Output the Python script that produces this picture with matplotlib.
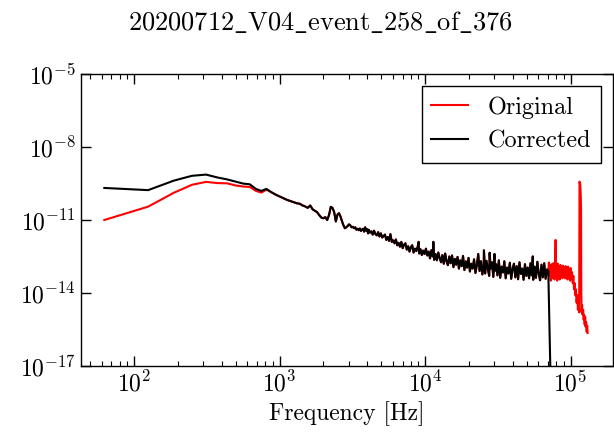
import numpy as np
import matplotlib
matplotlib.use("Agg")
import matplotlib.pyplot as plt
from matplotlib.ticker import NullLocator

plt.rcParams['font.family'] = 'serif'
plt.rcParams['font.serif'] = ['cmr10']
plt.rcParams['mathtext.fontset'] = 'cm'
plt.rcParams['axes.formatter.use_mathtext'] = True

title = r'$\mathrm{20200712\_V04\_event\_258\_of\_376}$'

# low frequency bins, the two curves differ here
f_low = [62.5, 125, 187.5, 250, 312.5, 375, 437.5, 500, 562.5, 625, 687.5, 750, 812.5]
orig_low = [-11.0, -10.45, -9.88, -9.55, -9.43, -9.48, -9.49, -9.58, -9.62, -9.64, -9.80, -9.87, -9.75]
corr_low = [-9.68, -9.77, -9.38, -9.18, -9.13, -9.25, -9.33, -9.42, -9.50, -9.53, -9.72, -9.80, -9.72]

# shared part (log10 of PSD), both curves overlap
f_mid = [875, 937.5, 1000, 1062.5, 1125, 1187.5, 1250, 1312.5, 1375, 1437.5,
         1500, 1562.5, 1625, 1687.5, 1750, 1812.5, 1875, 1937.5, 2000, 2062.5,
         2125, 2187.5, 2250, 2312.5, 2375, 2437.5, 2500, 2562.5, 2625, 2687.5,
         2750, 2812.5, 2875, 2937.5, 3000, 3062.5, 3125, 3187.5, 3250, 3312.5,
         3375, 3437.5, 3500, 3562.5, 3625, 3687.5, 3750, 3812.5, 3875, 3937.5,
         4000, 4062.5,
         4100, 4190, 4280, 4370, 4460, 4560, 4660, 4760, 4860, 4970,
         5080, 5190, 5300, 5420, 5540, 5660, 5780, 5910, 6040, 6170,
         6300, 6440, 6580, 6720, 6870, 7020, 7170, 7330, 7490, 7650,
         7820, 7990, 8160, 8340, 8520, 8710, 8900, 9040, 9100, 9300,
         9500, 9710, 9920,
         10140, 10360, 10590, 10820, 11060, 11300, 11400, 11550, 11800, 12060,
         12330, 12600, 12880, 13160, 13450, 13750, 14050, 14360, 14680, 15000,
         15330, 15670, 16010, 16360, 16720, 17090, 17470, 17850, 18240, 18640,
         19050, 19470, 19900, 20340, 20790, 21250, 21720, 22200, 22690, 23200,
         23700, 24230, 24760, 25300, 25400, 25860, 26430, 27010, 27600, 27800,
         28210, 28830, 29460, 30000, 30110, 30770, 31450, 32140, 32850, 33570,
         34310, 35060, 35830, 36620, 37430, 38250, 39090, 39950, 40830, 41730,
         42650, 43590, 44550, 45530, 46530, 47550, 48600, 49670, 50760, 51880,
         53020, 54180, 55000, 55370, 56590, 57840, 59110, 60410, 61740, 63100,
         64490, 65910, 67360, 68840, 70300]
psd_mid = [-9.85, -9.95, -10.03, -10.10, -10.17, -10.22, -10.27, -10.31, -10.33, -10.40,
           -10.44, -10.50, -10.40, -10.56, -10.62, -10.68, -10.80, -10.90, -10.93, -10.88,
           -11.0, -10.80, -10.46, -10.50, -10.68, -11.06, -10.78, -10.72, -10.86, -11.05,
           -11.22, -11.34, -11.30, -11.25, -11.18, -11.22, -11.30, -11.28, -11.34, -11.30,
           -11.40, -11.36, -11.42, -11.35, -11.45, -11.40, -11.36, -11.48, -11.30, -11.44,
           -11.38, -11.55,
           -11.40, -11.52, -11.47, -11.60, -11.44, -11.58, -11.63, -11.50, -11.68, -11.55,
           -11.72, -11.66, -11.60, -11.82, -11.70, -11.86, -11.58, -11.90, -11.84, -11.96,
           -11.80, -12.04, -11.94, -12.10, -11.90, -12.16, -12.02, -11.96, -12.22, -12.08,
           -12.30, -12.12, -12.04, -12.34, -12.18, -12.28, -12.10, -11.90, -12.38, -12.20,
           -12.44, -12.26, -12.40,
           -12.18, -12.46, -12.30, -12.58, -12.24, -12.50, -11.90, -12.64, -12.40, -12.66,
           -12.34, -12.56, -12.74, -12.44, -12.80, -12.38, -12.70, -12.86, -12.50, -12.78,
           -12.46, -12.94, -12.60, -12.84, -12.52, -13.00, -12.66, -12.90, -12.48, -13.06,
           -12.70, -12.96, -12.56, -13.12, -12.80, -13.00, -12.62, -13.18, -12.86, -12.40,
           -13.10, -12.70, -13.24, -12.90, -12.25, -13.20, -12.68, -13.02, -13.30, -12.35,
           -13.00, -12.74, -13.34, -12.40, -13.10, -12.82, -13.28, -12.66, -13.38, -12.92,
           -13.16, -12.70, -13.40, -12.96, -13.20, -12.76, -13.42, -13.02, -12.80, -13.36,
           -12.90, -13.44, -12.74, -13.22, -13.00, -13.46, -12.82, -13.30, -12.96, -13.40,
           -12.78, -13.28, -12.50, -13.46, -12.92, -13.38, -12.72, -13.20, -13.48, -12.84,
           -13.36, -12.78, -13.42, -13.04, -13.10]

# corrected: steep roll-off above ~70 kHz
f_corr_tail = [71000, 71700, 72600, 74000]
corr_tail = [-14.3, -15.3, -17.0, -19.5]

# original keeps going up to ~130 kHz
f_orig_tail = [71000, 71700, 72400, 73100, 73800, 74500, 75300, 76000, 76800, 77600,
               78400, 78900, 79300, 80100, 80900, 81700, 82500, 83400, 84200, 85100,
               86000, 86900, 87800, 88700, 89600, 90500, 91400, 92400, 93300, 94300,
               95300, 96300, 97300, 98300, 99300, 100300, 101400, 102400, 103500, 104500,
               105600, 106700, 107800, 108900, 110000, 111100, 112300, 113400, 114600, 115200,
               116300, 117200, 118000, 118500, 119200, 120000, 121000, 122000, 123000, 124000,
               125000, 126000, 127000, 128000, 129000, 130000, 131000]
orig_tail = [-12.75, -13.30, -12.95, -13.50, -12.82, -13.20, -13.40, -12.78, -13.25, -13.45,
             -12.90, -11.82, -13.35, -13.00, -13.50, -12.80, -13.20, -13.05, -13.45, -12.85,
             -13.25, -13.00, -13.40, -12.88, -13.15, -12.95, -13.40, -12.90, -13.20, -13.05,
             -13.45, -12.92, -13.30, -13.10, -13.50, -12.98, -13.40, -13.15, -13.60, -13.30,
             -13.85, -13.60, -14.10, -13.85, -14.40, -14.10, -14.70, -14.30, -14.80, -9.42,
             -9.50, -9.80, -10.40, -14.00, -14.80, -14.50, -14.90, -14.70, -15.10, -14.90,
             -15.30, -15.00, -15.40, -15.20, -15.60, -15.35, -15.65]

f_orig = np.array(f_low + f_mid + f_orig_tail)
psd_orig = 10.0 ** np.array(orig_low + psd_mid + orig_tail)
f_corr = np.array(f_low + f_mid + f_corr_tail)
psd_corr = 10.0 ** np.array(corr_low + psd_mid + corr_tail)

fig = plt.figure(figsize=(6.14, 4.36), dpi=100)
ax = fig.add_axes([0.1314, 0.1612, 0.8666, 0.6684])
ax.loglog(f_orig, psd_orig, color='red', lw=1.5, label='Original')
ax.loglog(f_corr, psd_corr, color='black', lw=1.5, label='Corrected')

ax.set_xlim(43, 1.95e5)
ax.set_ylim(1e-17, 1e-5)
ax.set_yticks([1e-17, 1e-14, 1e-11, 1e-8, 1e-5])
ax.yaxis.set_minor_locator(NullLocator())
ax.tick_params(which='both', direction='in', top=True, right=True, labelsize=17)
ax.tick_params(which='major', length=7, width=1)
ax.tick_params(which='minor', length=3.5, width=0.8)
for s in ax.spines.values():
    s.set_linewidth(1.0)
ax.set_xlabel('Frequency [Hz]', fontsize=17)
ax.legend(loc='upper right', fontsize=17.5, fancybox=False, framealpha=1,
          edgecolor='black', handlelength=1.5)
fig.suptitle(title, fontsize=19, x=0.522, y=0.98)

fig.savefig('out.png', dpi=100)
